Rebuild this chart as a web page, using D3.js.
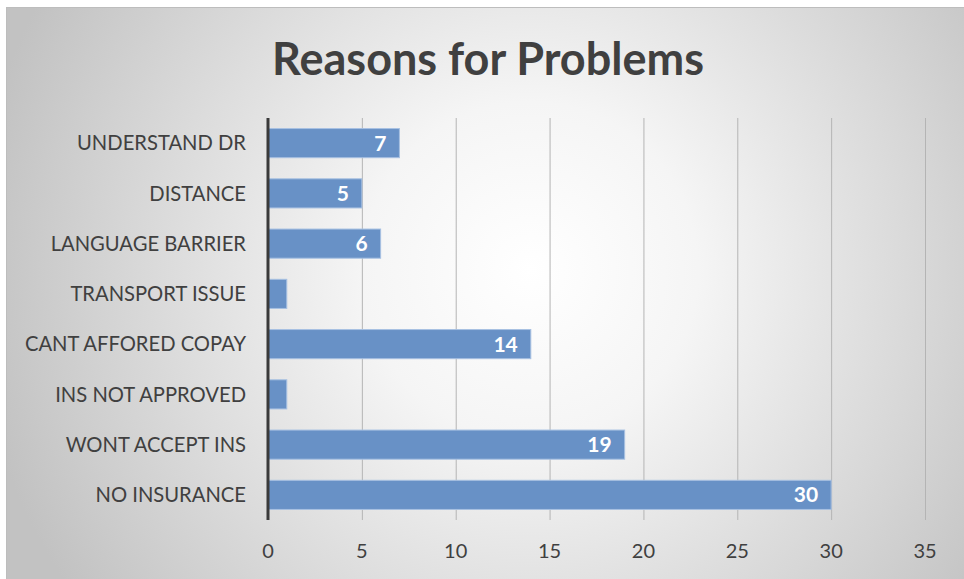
<!DOCTYPE html>
<html><head><meta charset="utf-8">
<script src="https://cdn.jsdelivr.net/npm/d3@7"></script>
<style>html,body{margin:0;padding:0;background:#fff;}svg{display:block;}</style>
</head><body>
<svg id="c" width="964" height="579"></svg>
<script>
const categories = ["UNDERSTAND DR","DISTANCE","LANGUAGE BARRIER","TRANSPORT ISSUE","CANT AFFORED COPAY","INS NOT APPROVED","WONT ACCEPT INS","NO INSURANCE"];
const values = [7,5,6,1,14,1,19,30];
const xTicks = [0,5,10,15,20,25,30,35];
const title = "Reasons for Problems";

const rows = categories.map((c,i)=>({cat:c, val:values[i]}));

const svg = d3.select("#c");
const defs = svg.append("defs");
const g = defs.append("radialGradient").attr("id","bg")
  .attr("gradientUnits","userSpaceOnUse").attr("cx",530).attr("cy",270).attr("r",560);
g.append("stop").attr("offset","0").attr("stop-color","#ffffff");
g.append("stop").attr("offset","0.3").attr("stop-color","#f5f5f5");
g.append("stop").attr("offset","1").attr("stop-color","#c2c2c2");

svg.append("rect").attr("x",6.5).attr("y",7.5).attr("width",970).attr("height",580)
  .attr("fill","url(#bg)").attr("stroke","#bdbdbd").attr("stroke-width",1);

svg.append("text").attr("x",488).attr("y",75).attr("text-anchor","middle")
  .attr("font-family","Lato, 'Open Sans', sans-serif").attr("font-weight","bold")
  .attr("font-size",45).attr("fill","#404040").text(title);

const x = d3.scaleLinear().domain([0,35]).range([268,925]);
const y = d3.scaleBand().domain(categories).range([118,520]).paddingInner(0.42).paddingOuter(0.21);

// gridlines
const grid = svg.append("g").attr("transform","translate(0,520)")
  .call(d3.axisBottom(x).tickValues(xTicks.slice(1)).tickSize(-402).tickFormat(""));
grid.select(".domain").remove();
grid.selectAll("line").attr("stroke","#b4b4b4").attr("stroke-width",1);

// tick labels
svg.append("g").selectAll("text").data(xTicks).join("text")
  .attr("x",d=>x(d)).attr("y",558).attr("text-anchor","middle")
  .attr("font-family","Lato, 'Open Sans', sans-serif").attr("font-size",20)
  .attr("fill","#404040").text(d=>d);

// bars
svg.append("g").selectAll("rect").data(rows).join("rect")
  .attr("x",x(0)).attr("y",d=>y(d.cat))
  .attr("width",d=>x(d.val)-x(0)).attr("height",y.bandwidth())
  .attr("fill","#6891c6")
  .attr("stroke","#a7c0e2").attr("stroke-width",1);

// value labels (only where they fit inside the bar)
svg.append("g").selectAll("text").data(rows.filter(d=>x(d.val)-x(0)>30)).join("text")
  .attr("x",d=>x(d.val)-13).attr("y",d=>y(d.cat)+y.bandwidth()/2)
  .attr("dy","0.36em").attr("text-anchor","end")
  .attr("font-family","Lato, 'Open Sans', sans-serif").attr("font-weight","bold")
  .attr("font-size",21).attr("fill","#ffffff").text(d=>d.val);

// category labels
svg.append("g").selectAll("text").data(categories).join("text")
  .attr("x",246).attr("y",d=>y(d)+y.bandwidth()/2).attr("dy","0.36em")
  .attr("text-anchor","end")
  .attr("font-family","Lato, 'Open Sans', sans-serif").attr("font-size",20.2)
  .attr("fill","#404040").text(d=>d);

// zero axis line
svg.append("line").attr("x1",x(0)).attr("x2",x(0)).attr("y1",118).attr("y2",520)
  .attr("stroke","#3a3a3a").attr("stroke-width",3);
</script>
</body></html>
